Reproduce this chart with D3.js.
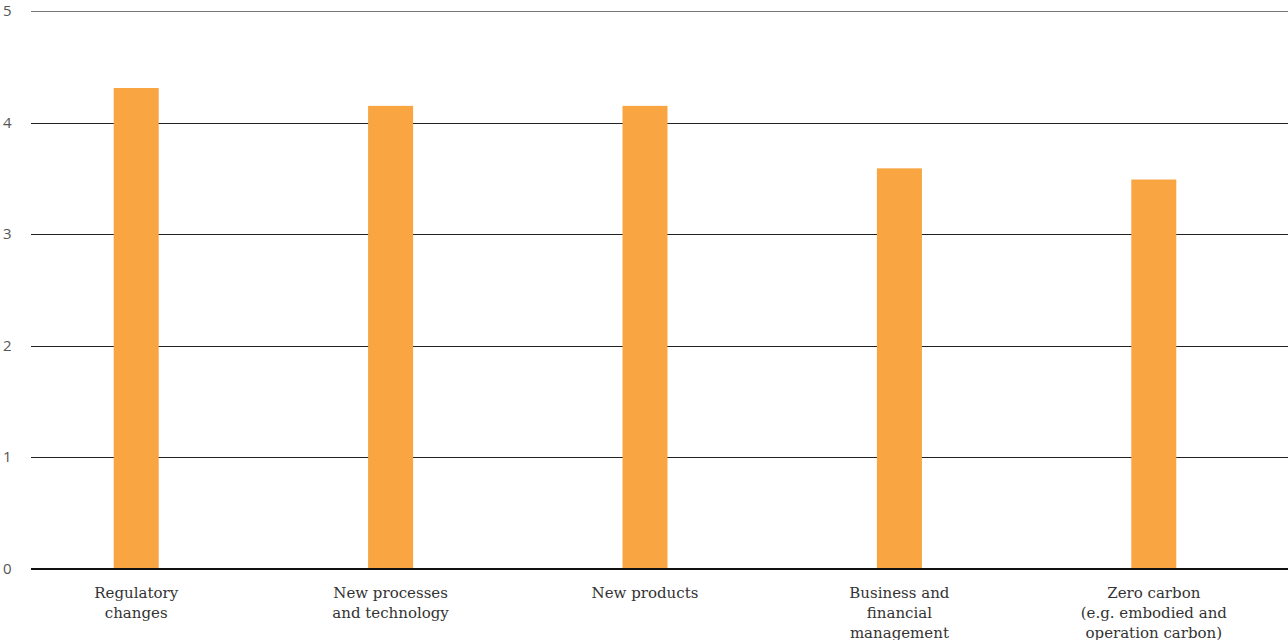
<!DOCTYPE html>
<html>
<head>
<meta charset="utf-8">
<script src="https://cdn.jsdelivr.net/npm/d3@7"></script>
<style>
  body { margin: 0; background: #fff; }
  svg { display: block; }
</style>
</head>
<body>
<svg width="1288" height="640"></svg>
<script>
// chart values
var categories = [
    ["Regulatory", "changes"],
    ["New processes", "and technology"],
    ["New products"],
    ["Business and", "financial", "management"],
    ["Zero carbon", "(e.g. embodied and", "operation carbon)"]
];
var scores = [4.31, 4.15, 4.15, 3.59, 3.49];
var yTicks = [0, 1, 2, 3, 4, 5];

var svg = d3.select("svg"),
    width = +svg.attr("width"),
    height = +svg.attr("height");

var gridLeft = 31, gridRight = 1288;
var barWidth = 45;

var xScale = d3.scaleBand().domain(d3.range(categories.length)).range([9, 1281]).padding(0);
var yScale = d3.scaleLinear().domain([0, 5]).range([569, 11]);

// gridlines
svg.selectAll(".grid")
   .data(yTicks.filter(function(d) { return d > 0; }))
   .enter().append("line")
   .attr("class", "grid")
   .attr("x1", gridLeft)
   .attr("x2", gridRight)
   .attr("y1", function(d) { return Math.round(yScale(d)) + 0.5; })
   .attr("y2", function(d) { return Math.round(yScale(d)) + 0.5; })
   .attr("stroke", function(d) { return d == 5 ? "#777" : "#222"; })
   .attr("stroke-width", 1);

// tick labels
svg.selectAll(".ytick")
   .data(yTicks)
   .enter().append("text")
   .attr("class", "ytick")
   .attr("x", 3)
   .attr("y", function(d) { return yScale(d) + 5; })
   .attr("font-family", "'Open Sans', sans-serif")
   .attr("font-size", "15px")
   .attr("fill", "#555")
   .text(function(d) { return d; });

// bars
svg.selectAll(".bar")
   .data(scores)
   .enter().append("rect")
   .attr("class", "bar")
   .attr("x", function(d, i) { return xScale(i) + (xScale.bandwidth() - barWidth) / 2; })
   .attr("y", function(d) { return yScale(d); })
   .attr("width", barWidth)
   .attr("height", function(d) { return yScale(0) - yScale(d); })
   .attr("fill", "#f9a541");

// zero baseline
svg.append("line")
   .attr("x1", gridLeft)
   .attr("x2", gridRight)
   .attr("y1", yScale(0))
   .attr("y2", yScale(0))
   .attr("stroke", "#111")
   .attr("stroke-width", 2);

// category labels
var labels = svg.selectAll(".xlabel")
   .data(categories)
   .enter().append("text")
   .attr("class", "xlabel")
   .attr("text-anchor", "middle")
   .attr("font-family", "'DejaVu Serif', serif")
   .attr("font-size", "15px")
   .attr("fill", "#333");

labels.each(function(lines, i) {
    var t = d3.select(this);
    lines.forEach(function(line, j) {
        t.append("tspan")
         .attr("x", xScale(i) + xScale.bandwidth() / 2)
         .attr("y", 598 + j * 20)
         .text(line);
    });
});
</script>
</body>
</html>
